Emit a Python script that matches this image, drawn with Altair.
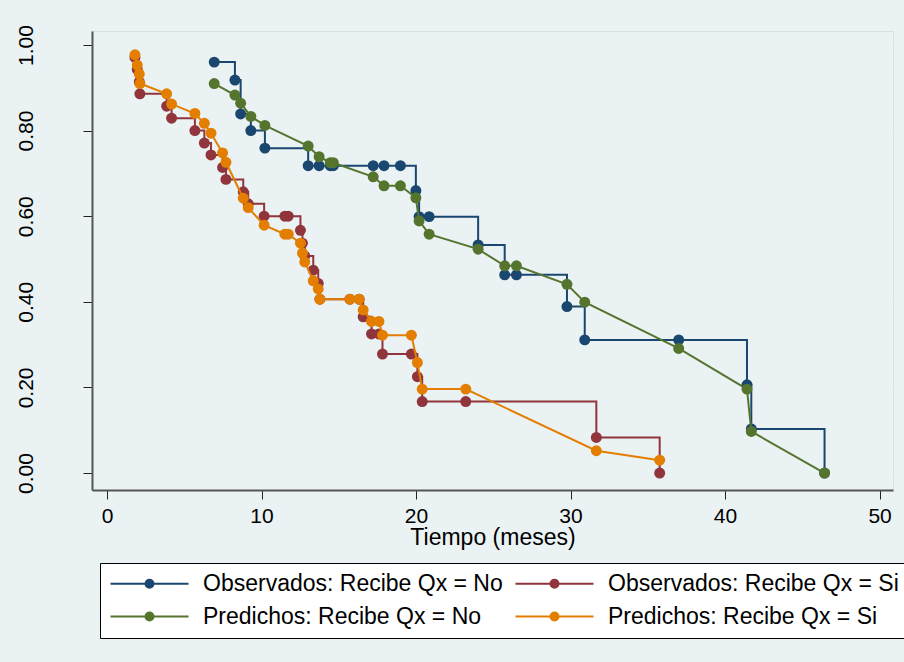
import altair as alt
import pandas as pd

# ---- data ----
series_names = [
    "Observados: Recibe Qx = No",
    "Observados: Recibe Qx = Si",
    "Predichos: Recibe Qx = No",
    "Predichos: Recibe Qx = Si",
]
series_colors = ["#1A476F", "#90353B", "#55752F", "#E37E00"]
# legend fills column by column, so list the entries in that order
legend_order = [0, 2, 1, 3]

tiempo_no = [6.94, 8.28, 8.65, 9.31, 10.22, 13.02, 13.73, 14.45, 14.65, 17.23, 17.93, 18.99,
             19.99, 20.20, 20.85, 24.02, 25.74, 26.50, 29.77, 30.92, 37.00, 41.42, 41.70, 46.44]
obs_no = [0.960, 0.918, 0.839, 0.800, 0.759, 0.718, 0.718, 0.718, 0.718, 0.718, 0.718, 0.718,
          0.660, 0.599, 0.599, 0.533, 0.463, 0.463, 0.389, 0.311, 0.311, 0.206, 0.103, 0.000]
pred_no = [0.910, 0.883, 0.864, 0.833, 0.812, 0.764, 0.739, 0.725, 0.725, 0.692, 0.671, 0.671,
           0.643, 0.589, 0.558, 0.523, 0.484, 0.484, 0.441, 0.399, 0.291, 0.196, 0.097, 0.000]

tiempo_si = [1.81, 1.96, 2.09, 2.13, 3.86, 4.18, 5.69, 6.30, 6.73, 7.48, 7.70, 8.82, 9.14,
             10.17, 11.51, 11.73, 12.52, 12.65, 12.80, 13.35, 13.67, 13.78, 15.72, 16.32,
             16.58, 17.12, 17.60, 17.83, 19.70, 20.09, 20.40, 23.22, 31.67, 35.77]
obs_si = [0.971, 0.943, 0.914, 0.886, 0.857, 0.829, 0.800, 0.771, 0.743, 0.714, 0.686, 0.657,
          0.629, 0.600, 0.600, 0.600, 0.567, 0.537, 0.507, 0.474, 0.443, 0.406, 0.406, 0.406,
          0.365, 0.325, 0.325, 0.278, 0.278, 0.225, 0.167, 0.167, 0.083, 0.000]
pred_si = [0.977, 0.953, 0.932, 0.910, 0.886, 0.862, 0.840, 0.817, 0.794, 0.748, 0.726, 0.642,
           0.620, 0.579, 0.558, 0.558, 0.537, 0.514, 0.493, 0.449, 0.430, 0.406, 0.406, 0.406,
           0.381, 0.354, 0.354, 0.322, 0.322, 0.258, 0.196, 0.196, 0.052, 0.030]

x_ticks = [0, 10, 20, 30, 40, 50]
y_ticks = [0.0, 0.2, 0.4, 0.6, 0.8, 1.0]

# ---- build table ----
rows = []
for name, t, v in [
    (series_names[0], tiempo_no, obs_no),
    (series_names[1], tiempo_si, obs_si),
    (series_names[2], tiempo_no, pred_no),
    (series_names[3], tiempo_si, pred_si),
]:
    for ti, vi in zip(t, v):
        rows.append({"serie": name, "tiempo": ti, "sobrevida": vi})
df = pd.DataFrame(rows)

FONT = "Liberation Sans"
AXIS_COLOR = "#555555"
BG = "#EAF2F3"

x_scale = alt.Scale(domain=[-0.97, 50.87], nice=False, zero=False)
y_scale = alt.Scale(domain=[-0.0397, 1.0327], nice=False, zero=False)
color_scale = alt.Scale(
    domain=[series_names[k] for k in legend_order],
    range=[series_colors[k] for k in legend_order],
)

x_axis = alt.Axis(
    values=x_ticks, title="Tiempo (meses)", grid=False, tickSize=9, labelPadding=6,
    labelFontSize=21, titleFontSize=23, titleFontWeight="normal", titleY=54,
    titleBaseline="alphabetic", labelFlush=False, labelOverlap=False,
    domainColor=AXIS_COLOR, domainWidth=2, tickColor="#222222", tickWidth=1,
    labelColor="black", titleColor="black", labelFont=FONT, titleFont=FONT,
)
y_axis = alt.Axis(
    values=y_ticks, format=".2f", title=None, grid=True, gridColor=BG, gridWidth=2,
    tickSize=9, labelAngle=270, labelAlign="center", labelBaseline="alphabetic",
    labelPadding=51, labelFontSize=21, labelFlush=False, labelOverlap=False,
    domainColor=AXIS_COLOR, domainWidth=2, tickColor="#222222", tickWidth=1,
    labelColor="black", labelFont=FONT,
)

# legend key: line with a dot (concentric circles give a filled dot when stroked)
key_path = (
    "M-1,0H6.8"
    "M2.8,0A0.1,0.1,0,1,0,3.0,0A0.1,0.1,0,1,0,2.8,0"
    "M2.65,0A0.25,0.25,0,1,0,3.15,0A0.25,0.25,0,1,0,2.65,0"
    "M2.5,0A0.4,0.4,0,1,0,3.3,0A0.4,0.4,0,1,0,2.5,0"
)
legend = alt.Legend(
    title=None, orient="none", legendX=8, legendY=532, columns=2, columnPadding=8,
    rowPadding=9, padding=9, fillColor="white", strokeColor="black",
    labelFontSize=23, labelFont=FONT, labelColor="black", labelOffset=71, labelLimit=500,
    symbolType=key_path, symbolSize=400, symbolStrokeWidth=2, symbolOpacity=1,
)

base = alt.Chart(df)
layers = []
for i, name in enumerate(series_names):
    interp = "step-after" if i < 2 else "linear"
    sub = base.transform_filter(alt.datum.serie == name)
    enc = dict(
        x=alt.X("tiempo:Q", scale=x_scale, axis=x_axis),
        y=alt.Y("sobrevida:Q", scale=y_scale, axis=y_axis),
    )
    line = sub.mark_line(interpolate=interp, strokeWidth=2).encode(
        color=alt.Color("serie:N", scale=color_scale, legend=legend if i == 0 else None),
        **enc,
    )
    pts = sub.mark_circle(size=120, opacity=1).encode(
        color=alt.Color("serie:N", scale=color_scale, legend=None),
        **enc,
    )
    layers += [line, pts]

chart = (
    alt.layer(*layers)
    .properties(
        width=801, height=459,
        autosize=alt.AutoSizeParams(type="none"),
        padding={"left": 92, "top": 31, "right": 11, "bottom": 172},
        background=BG,
    )
    .configure_view(stroke=None, fill="white")
    .configure(font=FONT)
)

chart.save("out.html", embed_options={"renderer": "svg", "actions": False})
